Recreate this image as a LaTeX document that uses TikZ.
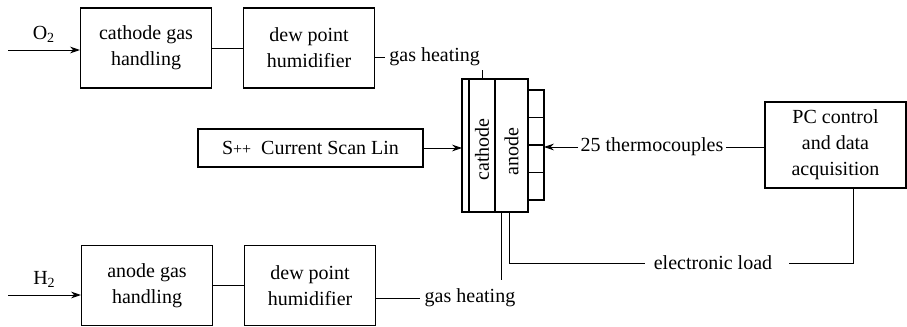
\documentclass[tikz,border=0pt]{standalone}
\usepackage{fontspec}
\setmainfont{Liberation Serif}
\usepackage{tikz}
\usetikzlibrary{arrows.meta, positioning, calc}
\tikzset{
	blk/.style ={rectangle, draw=black, line width=0.55pt, minimum width=65.5pt, minimum height=40pt, align=center},
	col/.style ={rectangle, draw=black, line width=0.55pt, minimum height=66.5pt, inner sep=0pt, outer sep=0pt},
	tab/.style ={rectangle, draw=black, line width=0.55pt, minimum width=8pt, minimum height=13.75pt, inner sep=0pt, outer sep=0pt},
	wire/.style={line width=0.5pt},
	sig/.style ={-{Stealth[length=5pt, width=3.4pt]}, line width=0.45pt},
	tag/.style ={inner sep=2pt},
}
\begin{document}
\begin{tikzpicture}[x=0.5pt, y=-0.5pt, font=\fontsize{10}{13}\selectfont]
	\useasboundingbox (0,0) rectangle (907,327);
	% cathode side
	\node[blk] (cgh) at (146,48) {cathode gas\\ handling};
	\node[blk, right=15.5pt of cgh] (dph1) {dew point\\ humidifier};
	\coordinate (o2in) at (8,50);
	\draw[sig] (o2in) -- (o2in -| cgh.west) node[midway, above] (o2lbl) {O\textsubscript{2}};
	\draw[wire] (cgh) -- (dph1);
	\node[tag, anchor=west] (gh1) at (385,57) {gas heating};
	\draw[wire] (gh1.west -| dph1.east) -- (gh1.west);
	% anode side
	\node[blk] (agh) at (147,285.5) {anode gas\\ handling};
	\node[blk, right=15.5pt of agh] (dph2) {dew point\\ humidifier};
	\coordinate (h2in) at (8,295);
	\draw[sig] (h2in) -- (h2in -| agh.west) node[midway, above] (h2lbl) {H\textsubscript{2}};
	\draw[wire] (agh) -- (dph2);
	\node[tag] (gh2) at (470,298) {gas heating};
	\draw[wire] (gh2.west -| dph2.east) -- (gh2.west);
	% stack
	\node[col, minimum width=3.5pt] (plate) at (465.5,145.5) {};
	\node[col, minimum width=13pt, right=0pt of plate] (cath) {};
	\node[col, minimum width=16.5pt, right=0pt of cath] (anod) {};
	\node[rotate=90] (cathlbl) at ([yshift=-2pt]cath.center) {cathode};
	\node[rotate=90] (anodlbl) at ([yshift=-3pt]anod.center) {anode};
	\foreach \i in {1,...,4}
		\node[tab] (tc\i) at (536,76.25+27.5*\i) {};
	\draw[wire] (cath.north) -- ++(0,-9);
	% load
	\node[blk, minimum width=112.5pt, minimum height=19pt] (scan) at (310.5,148) {S{\footnotesize ++}\hspace{.5em}Current Scan Lin};
	\draw[sig] (scan.east) -- (scan.east -| plate.west);
	% data acquisition
	\node[blk, minimum width=70.5pt, minimum height=43pt] (pc) at (835.5,145) {PC control\\ and data\\ acquisition};
	\node[inner sep=1pt] (tcl) at (652,147) {25 thermocouples};
	\draw[sig] (tcl.west) -- (tcl.west -| tc2.east);
	\draw[wire] (tcl.east) -- (pc.west |- tcl.east);
	\node[tag, inner sep=4pt] (load) at (713,263) {electronic load};
	\coordinate (gasout) at ([xshift=3pt]anod.south west);
	\coordinate (loadout) at ([xshift=7pt]anod.south west);
	\draw[wire] (gasout) -- ([yshift=2.5pt]gasout |- gh2.north);
	\draw[wire] (loadout) |- (load.west);
	\draw[wire] ([xshift=9pt]pc.south) |- ([xshift=4pt]load.east);
\end{tikzpicture}
\end{document}
